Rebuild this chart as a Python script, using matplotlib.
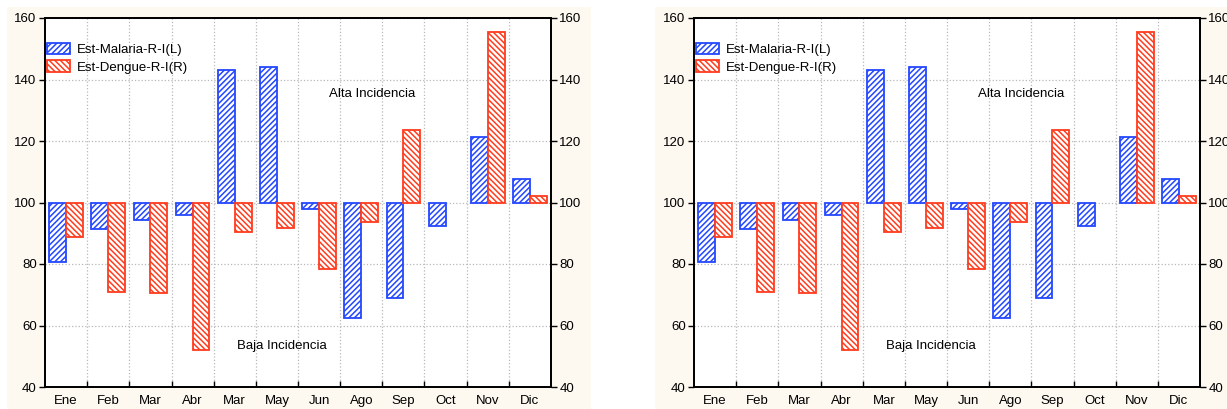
import matplotlib
matplotlib.use("Agg")
import matplotlib.pyplot as plt
import numpy as np
from matplotlib.patches import Rectangle, Patch

plt.rcParams['font.family'] = ['Liberation Sans', 'DejaVu Sans']
plt.rcParams['hatch.linewidth'] = 1.1

months = ["Ene", "Feb", "Mar", "Abr", "Mar", "May", "Jun", "Ago", "Sep", "Oct", "Nov", "Dic"]
malaria = [80.8, 91.3, 94.2, 96.0, 143.0, 144.0, 97.8, 62.3, 69.0, 92.3, 121.3, 107.6]
dengue = [88.9, 71.0, 70.5, 51.9, 90.4, 91.6, 78.5, 93.8, 123.6, 100.0, 155.6, 102.0]
series_names = ["Est-Malaria-R-I(L)", "Est-Dengue-R-I(R)"]
yticks = [40, 60, 80, 100, 120, 140, 160]

BLUE = "#2448ff"
RED = "#ff3c1e"
CREAM = "#fdf8f0"
W, H = 1227, 409
HB = "//////"
HR = "\\\\\\\\\\\\"

fig = plt.figure(figsize=(W / 100, H / 100), dpi=100)
fig.patch.set_facecolor("white")

def px(x0, y0, x1, y1):
    return [x0 / W, 1 - y1 / H, (x1 - x0) / W, (y1 - y0) / H]

def panel(bg, ax_rect, alta_xy, baja_xy):
    bx0, by0, bx1, by1 = bg
    fig.patches.append(Rectangle((bx0 / W, 1 - by1 / H), (bx1 - bx0) / W, (by1 - by0) / H,
                                 transform=fig.transFigure, facecolor=CREAM, edgecolor="none", zorder=-10))
    ax = fig.add_axes(px(*ax_rect))
    ax.set_zorder(1)
    ax.set_facecolor("white")
    x = np.arange(len(months))
    bw = 0.4
    base = 100
    hm = [v - base for v in malaria]
    hd = [v - base for v in dengue]
    lwm = [0 if h == 0 else 1.3 for h in hm]
    lwd = [0 if h == 0 else 1.3 for h in hd]
    ax.bar(x - bw / 2, hm, bw, bottom=base, facecolor="white", edgecolor=BLUE,
           hatch=HB, linewidth=lwm, zorder=3)
    ax.bar(x + bw / 2, hd, bw, bottom=base, facecolor="white", edgecolor=RED,
           hatch=HR, linewidth=lwd, zorder=3)
    ax.set_xlim(-0.5, len(months) - 0.5)
    ax.set_ylim(40, 160)
    ax.set_yticks(yticks)
    ax.set_xticks(x)
    ax.set_xticklabels(months)
    ax.set_xticks(np.arange(0.5, len(months) - 0.5, 1), minor=True)
    ax.tick_params(axis='x', which='major', length=0, labelsize=9.5, pad=6)
    ax.tick_params(axis='x', which='minor', direction='in', length=4, width=1)
    ax.tick_params(axis='y', direction='out', length=4, width=1, labelsize=9.5, pad=2)
    ax.grid(True, axis='y', which='major', color='#b8b8b8', linestyle=':', linewidth=0.9, zorder=0)
    ax.grid(True, axis='x', which='minor', color='#b8b8b8', linestyle=':', linewidth=0.9, zorder=0)
    for s in ax.spines.values():
        s.set_linewidth(1.3)
        s.set_color("black")
    ax2 = ax.twinx()
    ax2.set_ylim(40, 160)
    ax2.set_yticks(yticks)
    ax2.tick_params(axis='y', direction='out', length=4, width=1, labelsize=9.5, pad=2)
    for s in ax2.spines.values():
        s.set_linewidth(1.3)
    handles = [Patch(facecolor="white", edgecolor=BLUE, hatch=HB, linewidth=1.3),
               Patch(facecolor="white", edgecolor=RED, hatch=HR, linewidth=1.3)]
    ax.legend(handles, series_names, loc="upper left", bbox_to_anchor=(-0.012, 0.955),
              frameon=False, fontsize=9.5, handlelength=1.75, handleheight=1.0,
              handletextpad=0.5, labelspacing=0.32, borderaxespad=0.2)
    ax.text(alta_xy[0], alta_xy[1], "Alta Incidencia", transform=ax.transData,
            ha="center", va="center", fontsize=9.5)
    ax.text(baja_xy[0], baja_xy[1], "Baja Incidencia", transform=ax.transData,
            ha="center", va="center", fontsize=9.5)

panel((7, 7, 591, 409), (45, 18, 551, 387), (7.25, 135.3), (5.12, 53.3))
panel((655, 7, 1227, 409), (694, 18, 1200, 387), (7.25, 135.3), (5.12, 53.3))

fig.savefig("out.png", dpi=100, facecolor=fig.get_facecolor())
